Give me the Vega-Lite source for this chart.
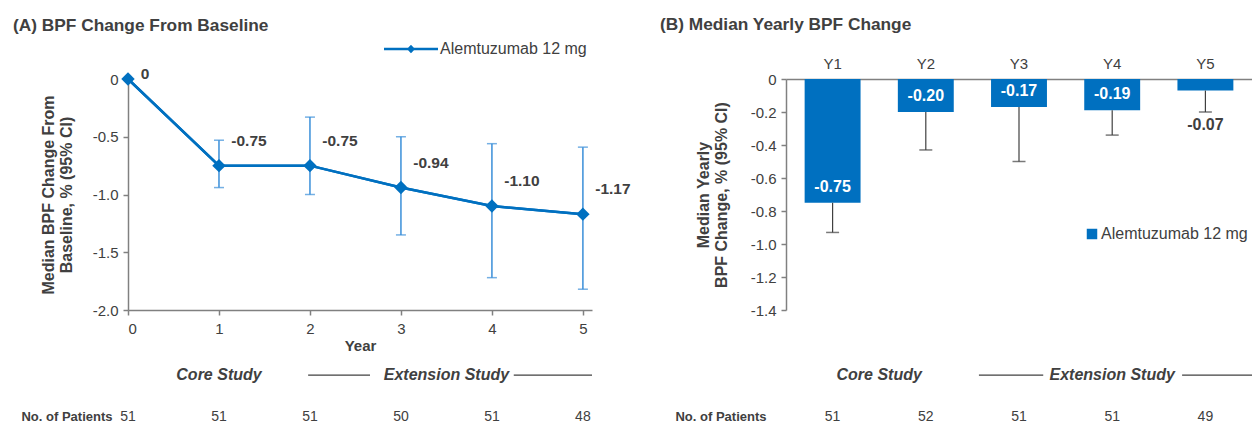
{
  "$schema": "https://vega.github.io/schema/vega-lite/v6.json",
  "background": "white",
  "padding": {"left": 13, "top": 15, "right": 0, "bottom": 0},
  "config": {
    "font": "Liberation Sans",
    "locale": {"number": {"decimal": ".", "thousands": ",", "grouping": [3], "currency": ["$", ""], "minus": "-"}},
    "view": {"stroke": null},
    "axis": {"labelColor": "#404040", "titleColor": "#404040", "domainColor": "#808080", "tickColor": "#808080", "labelFontSize": 15, "grid": false, "domainWidth": 1.5, "tickWidth": 1.5},
    "title": {"color": "#404040", "fontSize": 17.3, "fontWeight": "bold", "anchor": "start"},
    "legend": {"labelColor": "#404040", "labelFontSize": 16}
  },
  "resolve": {"scale": {"color": "independent"}, "legend": {"color": "independent"}},
  "datasets": {
    "yearly": [
      {"year": 0, "median": 0, "lower": null, "upper": null, "n": 51},
      {"year": 1, "median": -0.75, "lower": -0.94, "upper": -0.53, "n": 51},
      {"year": 2, "median": -0.75, "lower": -1.0, "upper": -0.33, "n": 51},
      {"year": 3, "median": -0.94, "lower": -1.35, "upper": -0.5, "n": 50},
      {"year": 4, "median": -1.1, "lower": -1.72, "upper": -0.56, "n": 51},
      {"year": 5, "median": -1.17, "lower": -1.82, "upper": -0.59, "n": 48}
    ],
    "annual": [
      {"yr": "Y1", "idx": 1, "median": -0.75, "lower": -0.93, "n": 51},
      {"yr": "Y2", "idx": 2, "median": -0.2, "lower": -0.43, "n": 52},
      {"yr": "Y3", "idx": 3, "median": -0.17, "lower": -0.5, "n": 51},
      {"yr": "Y4", "idx": 4, "median": -0.19, "lower": -0.34, "n": 51},
      {"yr": "Y5", "idx": 5, "median": -0.07, "lower": -0.2, "n": 49}
    ],
    "studyA": [
      {"study": "Core Study", "at": 1},
      {"study": "Extension Study", "at": 3.5}
    ],
    "segA": [
      {"from": 1.98, "to": 2.66},
      {"from": 4.24, "to": 5.1}
    ],
    "studyB": [
      {"study": "Core Study", "at": 1.5},
      {"study": "Extension Study", "at": 4}
    ],
    "segB": [
      {"from": 2.57, "to": 3.26},
      {"from": 4.75, "to": 5.5}
    ]
  },
  "columns": 2,
  "align": "each",
  "spacing": {"row": 14, "column": 29},
  "concat": [
    {
      "width": 464,
      "height": 231,
      "title": {"text": "(A) BPF Change From Baseline", "frame": "group", "dx": -115, "offset": 7},
      "data": {"name": "yearly"},
      "encoding": {
        "x": {"field": "year", "type": "quantitative", "scale": {"domain": [0, 5.1], "nice": false},
          "axis": {"values": [0, 1, 2, 3, 4, 5], "format": "d", "title": "Year", "titleFontWeight": "bold", "titleFontSize": 15, "titlePadding": 2, "tickSize": 5, "labelPadding": 6}},
        "y": {"field": "median", "type": "quantitative", "scale": {"domain": [-2, 0], "nice": false},
          "axis": {"values": [-2, -1.5, -1, -0.5, 0], "labelExpr": "datum.value === 0 ? '0' : format(datum.value, '.1f')", "title": ["Median BPF Change From", "Baseline, % (95% CI)"], "titleFontWeight": "bold", "titleFontSize": 16, "titlePadding": 18, "tickSize": 5, "labelPadding": 5}}
      },
      "layer": [
        {
          "mark": {"type": "line", "strokeWidth": 2.5},
          "encoding": {
            "color": {"datum": "Alemtuzumab 12 mg", "scale": {"range": ["#0070c0"]},
              "legend": {"orient": "none", "legendX": 275, "legendY": -38, "title": null, "symbolType": "M-4.5,0H4.5M0,-0.4L0.4,0L0,0.4L-0.4,0Z", "symbolSize": 144, "symbolStrokeWidth": 2.5, "labelOffset": 21, "labelFontSize": 16,
                "encode": {"symbols": {"update": {"fill": {"value": "#0070c0"}, "stroke": {"value": "#0070c0"}}}}}}
          }
        },
        {
          "data": {"values": [{}]},
          "mark": {"type": "rule", "strokeDash": [4, 3], "color": "#595959", "strokeWidth": 1.2},
          "encoding": {
            "x": {"datum": 2, "type": "quantitative", "scale": {"domain": [0, 5.1], "nice": false},
              "axis": {"values": [0, 1, 2, 3, 4, 5], "format": "d", "title": "Year", "titleFontWeight": "bold", "titleFontSize": 15, "titlePadding": 2, "tickSize": 5, "labelPadding": 6}},
            "y": {"datum": -2, "type": "quantitative", "scale": {"domain": [-2, 0], "nice": false},
              "axis": {"values": [-2, -1.5, -1, -0.5, 0], "labelExpr": "datum.value === 0 ? '0' : format(datum.value, '.1f')", "title": ["Median BPF Change From", "Baseline, % (95% CI)"], "titleFontWeight": "bold", "titleFontSize": 16, "titlePadding": 18, "tickSize": 5, "labelPadding": 5}},
            "y2": {"datum": -0.08}
          }
        },
        {
          "transform": [{"filter": "datum.year > 0"}],
          "mark": {"type": "errorbar", "ticks": {"size": 10}, "color": "#3a8fd9", "thickness": 1.5},
          "encoding": {
            "y": {"field": "lower", "type": "quantitative", "scale": {"domain": [-2, 0], "nice": false},
              "axis": {"values": [-2, -1.5, -1, -0.5, 0], "labelExpr": "datum.value === 0 ? '0' : format(datum.value, '.1f')", "title": ["Median BPF Change From", "Baseline, % (95% CI)"], "titleFontWeight": "bold", "titleFontSize": 16, "titlePadding": 18, "tickSize": 5, "labelPadding": 5}},
            "y2": {"field": "upper"}
          }
        },
        {
          "mark": {"type": "line", "strokeWidth": 2.5, "color": "#0070c0"}
        },
        {
          "mark": {"type": "point", "shape": "diamond", "filled": true, "size": 180, "opacity": 1, "color": "#0070c0"}
        },
        {
          "transform": [{"filter": "datum.year > 0"}],
          "mark": {"type": "text", "dx": 30, "dy": -25, "fontWeight": "bold", "fontSize": 15.5, "color": "#404040"},
          "encoding": {
            "text": {"field": "median", "type": "quantitative", "format": ".2f"}
          }
        },
        {
          "transform": [{"filter": "datum.year == 0"}],
          "mark": {"type": "text", "dx": 17, "dy": -5, "fontWeight": "bold", "fontSize": 15.5, "color": "#404040"},
          "encoding": {
            "text": {"field": "median", "type": "quantitative", "format": ".0f"}
          }
        }
      ]
    },
    {
      "width": 466,
      "height": 231,
      "title": {"text": "(B) Median Yearly BPF Change", "frame": "group", "dx": -126, "offset": 23},
      "data": {"name": "annual"},
      "encoding": {
        "x": {"field": "yr", "type": "nominal", "scale": {"paddingInner": 0.4, "paddingOuter": 0.2},
          "axis": {"orient": "top", "title": null, "labelAngle": 0, "ticks": false, "labelPadding": 8}},
        "y": {"field": "median", "type": "quantitative", "stack": null, "scale": {"domain": [-1.4, 0], "nice": false},
          "axis": {"values": [-1.4, -1.2, -1, -0.8, -0.6, -0.4, -0.2, 0], "labelExpr": "datum.value === 0 ? '0' : format(datum.value, '.1f')", "title": ["Median Yearly", "BPF Change, % (95% CI)"], "titleFontWeight": "bold", "titleFontSize": 16, "titlePadding": 21, "tickSize": 5, "labelPadding": 5, "labelOverlap": false}}
      },
      "layer": [
        {
          "mark": {"type": "bar"},
          "encoding": {
            "color": {"datum": "Alemtuzumab 12 mg", "scale": {"range": ["#0070c0"]},
              "legend": {"orient": "none", "legendX": 298, "legendY": 147, "title": null, "symbolType": "square", "symbolSize": 110, "labelOffset": 1, "labelFontSize": 16}}
          }
        },
        {
          "mark": {"type": "rule", "color": "#404040", "strokeWidth": 1.2},
          "encoding": {
            "y2": {"field": "lower"}
          }
        },
        {
          "mark": {"type": "tick", "orient": "horizontal", "color": "#404040", "size": 13, "thickness": 1.5},
          "encoding": {
            "y": {"field": "lower", "type": "quantitative", "scale": {"domain": [-1.4, 0], "nice": false},
              "axis": {"values": [-1.4, -1.2, -1, -0.8, -0.6, -0.4, -0.2, 0], "labelExpr": "datum.value === 0 ? '0' : format(datum.value, '.1f')", "title": ["Median Yearly", "BPF Change, % (95% CI)"], "titleFontWeight": "bold", "titleFontSize": 16, "titlePadding": 21, "tickSize": 5, "labelPadding": 5, "labelOverlap": false}}
          }
        },
        {
          "transform": [{"filter": "datum.yr != 'Y5'"}],
          "mark": {"type": "text", "dy": -16, "fontWeight": "bold", "fontSize": 16, "color": "white"},
          "encoding": {
            "text": {"field": "median", "type": "quantitative", "format": ".2f"}
          }
        },
        {
          "transform": [{"filter": "datum.yr == 'Y5'"}],
          "mark": {"type": "text", "dy": 13, "fontWeight": "bold", "fontSize": 16, "color": "#404040"},
          "encoding": {
            "y": {"field": "lower", "type": "quantitative", "scale": {"domain": [-1.4, 0], "nice": false},
              "axis": {"values": [-1.4, -1.2, -1, -0.8, -0.6, -0.4, -0.2, 0], "labelExpr": "datum.value === 0 ? '0' : format(datum.value, '.1f')", "title": ["Median Yearly", "BPF Change, % (95% CI)"], "titleFontWeight": "bold", "titleFontSize": 16, "titlePadding": 21, "tickSize": 5, "labelPadding": 5, "labelOverlap": false}},
            "text": {"field": "median", "type": "quantitative", "format": ".2f"}
          }
        },
        {
          "data": {"values": [{}]},
          "mark": {"type": "rule", "strokeDash": [4, 3], "color": "#595959", "strokeWidth": 1.2},
          "encoding": {
            "x": {"datum": "Y2", "type": "nominal", "bandPosition": 1.3333,
              "axis": {"orient": "top", "title": null, "labelAngle": 0, "ticks": false, "labelPadding": 8}},
            "y": {"datum": 0, "type": "quantitative", "scale": {"domain": [-1.4, 0], "nice": false},
              "axis": {"values": [-1.4, -1.2, -1, -0.8, -0.6, -0.4, -0.2, 0], "labelExpr": "datum.value === 0 ? '0' : format(datum.value, '.1f')", "title": ["Median Yearly", "BPF Change, % (95% CI)"], "titleFontWeight": "bold", "titleFontSize": 16, "titlePadding": 21, "tickSize": 5, "labelPadding": 5, "labelOverlap": false}},
            "y2": {"datum": -1.17}
          }
        }
      ]
    },
    {
      "width": 464,
      "height": 56,
      "layer": [
        {
          "data": {"name": "yearly"},
          "mark": {"type": "text", "fontSize": 14, "color": "#404040"},
          "encoding": {
            "x": {"field": "year", "type": "quantitative", "scale": {"domain": [0, 5.1], "nice": false}, "axis": null},
            "y": {"datum": "n", "type": "nominal", "scale": {"type": "point", "domain": ["study", "n"], "padding": 0.17},
              "axis": {"title": null, "domain": false, "ticks": false, "labelExpr": "datum.value == 'n' ? 'No. of Patients' : ''", "labelFontWeight": "bold", "labelFontSize": 13, "labelPadding": 16}},
            "text": {"field": "n", "type": "quantitative"}
          }
        },
        {
          "data": {"name": "studyA"},
          "mark": {"type": "text", "fontSize": 16, "fontWeight": "bold", "fontStyle": "italic", "color": "#404040"},
          "encoding": {
            "x": {"field": "at", "type": "quantitative", "scale": {"domain": [0, 5.1], "nice": false}, "axis": null},
            "y": {"datum": "study", "type": "nominal", "scale": {"type": "point", "domain": ["study", "n"], "padding": 0.17},
              "axis": {"title": null, "domain": false, "ticks": false, "labelExpr": "datum.value == 'n' ? 'No. of Patients' : ''", "labelFontWeight": "bold", "labelFontSize": 13, "labelPadding": 16}},
            "text": {"field": "study", "type": "nominal"}
          }
        },
        {
          "data": {"name": "segA"},
          "mark": {"type": "rule", "color": "#404040", "strokeWidth": 1.3},
          "encoding": {
            "x": {"field": "from", "type": "quantitative", "scale": {"domain": [0, 5.1], "nice": false}, "axis": null},
            "x2": {"field": "to"},
            "y": {"datum": "study", "type": "nominal", "scale": {"type": "point", "domain": ["study", "n"], "padding": 0.17},
              "axis": {"title": null, "domain": false, "ticks": false, "labelExpr": "datum.value == 'n' ? 'No. of Patients' : ''", "labelFontWeight": "bold", "labelFontSize": 13, "labelPadding": 16}}
          }
        }
      ]
    },
    {
      "width": 466,
      "height": 56,
      "layer": [
        {
          "data": {"name": "annual"},
          "mark": {"type": "text", "fontSize": 14, "color": "#404040"},
          "encoding": {
            "x": {"field": "idx", "type": "quantitative", "scale": {"domain": [0.5, 5.5], "nice": false, "zero": false}, "axis": null},
            "y": {"datum": "n", "type": "nominal", "scale": {"type": "point", "domain": ["study", "n"], "padding": 0.17},
              "axis": {"title": null, "domain": false, "ticks": false, "labelExpr": "datum.value == 'n' ? 'No. of Patients' : ''", "labelFontWeight": "bold", "labelFontSize": 13, "labelPadding": 20}},
            "text": {"field": "n", "type": "quantitative"}
          }
        },
        {
          "data": {"name": "studyB"},
          "mark": {"type": "text", "fontSize": 16, "fontWeight": "bold", "fontStyle": "italic", "color": "#404040"},
          "encoding": {
            "x": {"field": "at", "type": "quantitative", "scale": {"domain": [0.5, 5.5], "nice": false, "zero": false}, "axis": null},
            "y": {"datum": "study", "type": "nominal", "scale": {"type": "point", "domain": ["study", "n"], "padding": 0.17},
              "axis": {"title": null, "domain": false, "ticks": false, "labelExpr": "datum.value == 'n' ? 'No. of Patients' : ''", "labelFontWeight": "bold", "labelFontSize": 13, "labelPadding": 20}},
            "text": {"field": "study", "type": "nominal"}
          }
        },
        {
          "data": {"name": "segB"},
          "mark": {"type": "rule", "color": "#404040", "strokeWidth": 1.3},
          "encoding": {
            "x": {"field": "from", "type": "quantitative", "scale": {"domain": [0.5, 5.5], "nice": false, "zero": false}, "axis": null},
            "x2": {"field": "to"},
            "y": {"datum": "study", "type": "nominal", "scale": {"type": "point", "domain": ["study", "n"], "padding": 0.17},
              "axis": {"title": null, "domain": false, "ticks": false, "labelExpr": "datum.value == 'n' ? 'No. of Patients' : ''", "labelFontWeight": "bold", "labelFontSize": 13, "labelPadding": 20}}
          }
        }
      ]
    }
  ]
}
